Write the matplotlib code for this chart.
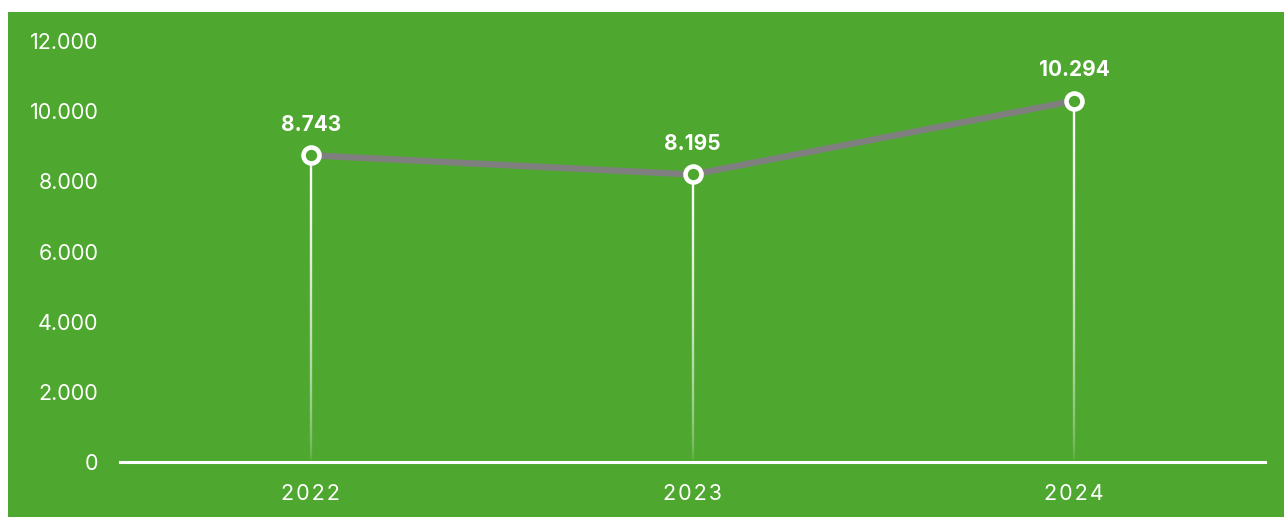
import matplotlib
matplotlib.use("Agg")
import matplotlib.pyplot as plt
from matplotlib.patches import Rectangle
from matplotlib.collections import LineCollection
from matplotlib.ticker import FuncFormatter
import numpy as np

years = ["2022", "2023", "2024"]
values = [8743, 8195, 10294]
y_ticks = [0, 2000, 4000, 6000, 8000, 10000, 12000]

GREEN = "#4EA72E"
LINE_GRAY = "#7F7F7F"
FONT = ["Inter", "DejaVu Sans"]

W, H = 1284, 517
fig = plt.figure(figsize=(W / 100, H / 100), dpi=100)
fig.patch.set_facecolor("white")
fig.patches.append(Rectangle((8 / W, 0), 1 - 8 / W, 1 - 12 / H,
                             transform=fig.transFigure, facecolor=GREEN,
                             edgecolor="none", zorder=-10))

ax = fig.add_axes([120 / W, (H - 462) / H, (1265 - 120) / W, (462 - 41) / H])
ax.set_zorder(1)
ax.patch.set_visible(False)
for s in ["left", "right", "top"]:
    ax.spines[s].set_visible(False)
ax.spines["bottom"].set_color("white")
ax.spines["bottom"].set_linewidth(2.2)
ax.spines["bottom"].set_zorder(6)

x = np.arange(len(years))
ax.set_xlim(-0.5, len(years) - 0.5)
ax.set_ylim(0, 12000)

# drop lines with fading gradient
for xi, v in zip(x, values):
    n = 150
    ys = np.linspace(v, 0, n + 1)
    segs = [[(xi, ys[i]), (xi, ys[i + 1])] for i in range(n)]
    t = np.linspace(1.0, 0.0, n)
    alphas = np.sqrt(t)
    cols = [(1, 1, 1, a) for a in alphas]
    lc = LineCollection(segs, colors=cols, linewidths=1.7, zorder=2,
                        capstyle="butt")
    ax.add_collection(lc)

ax.plot(x, values, color=LINE_GRAY, lw=4.6, zorder=3, solid_capstyle="butt",
        clip_on=False)
ax.plot(x, values, "o", ms=11.5, mfc=GREEN, mec="white", mew=3.3, zorder=5,
        clip_on=False)

for xi, v in zip(x, values):
    ax.annotate(f"{v:,}".replace(",", "."), (xi, v), xytext=(0, 22),
                textcoords="offset points", ha="center", va="center",
                color="white", fontsize=15, fontweight="bold", family=FONT)

ax.set_yticks(y_ticks)
ax.yaxis.set_major_formatter(FuncFormatter(lambda v, p: f"{int(v):,}".replace(",", ".")))
ax.set_xticks(x)
ax.set_xticklabels(["\u200a".join(list(y)) for y in years])
ax.tick_params(axis="both", length=0, colors="white", labelsize=15.5)
ax.tick_params(axis="y", pad=15.5)
ax.tick_params(axis="x", pad=15.5)
for lab in ax.get_xticklabels() + ax.get_yticklabels():
    lab.set_family(FONT)

fig.savefig("out.png", dpi=100, facecolor=fig.get_facecolor())
